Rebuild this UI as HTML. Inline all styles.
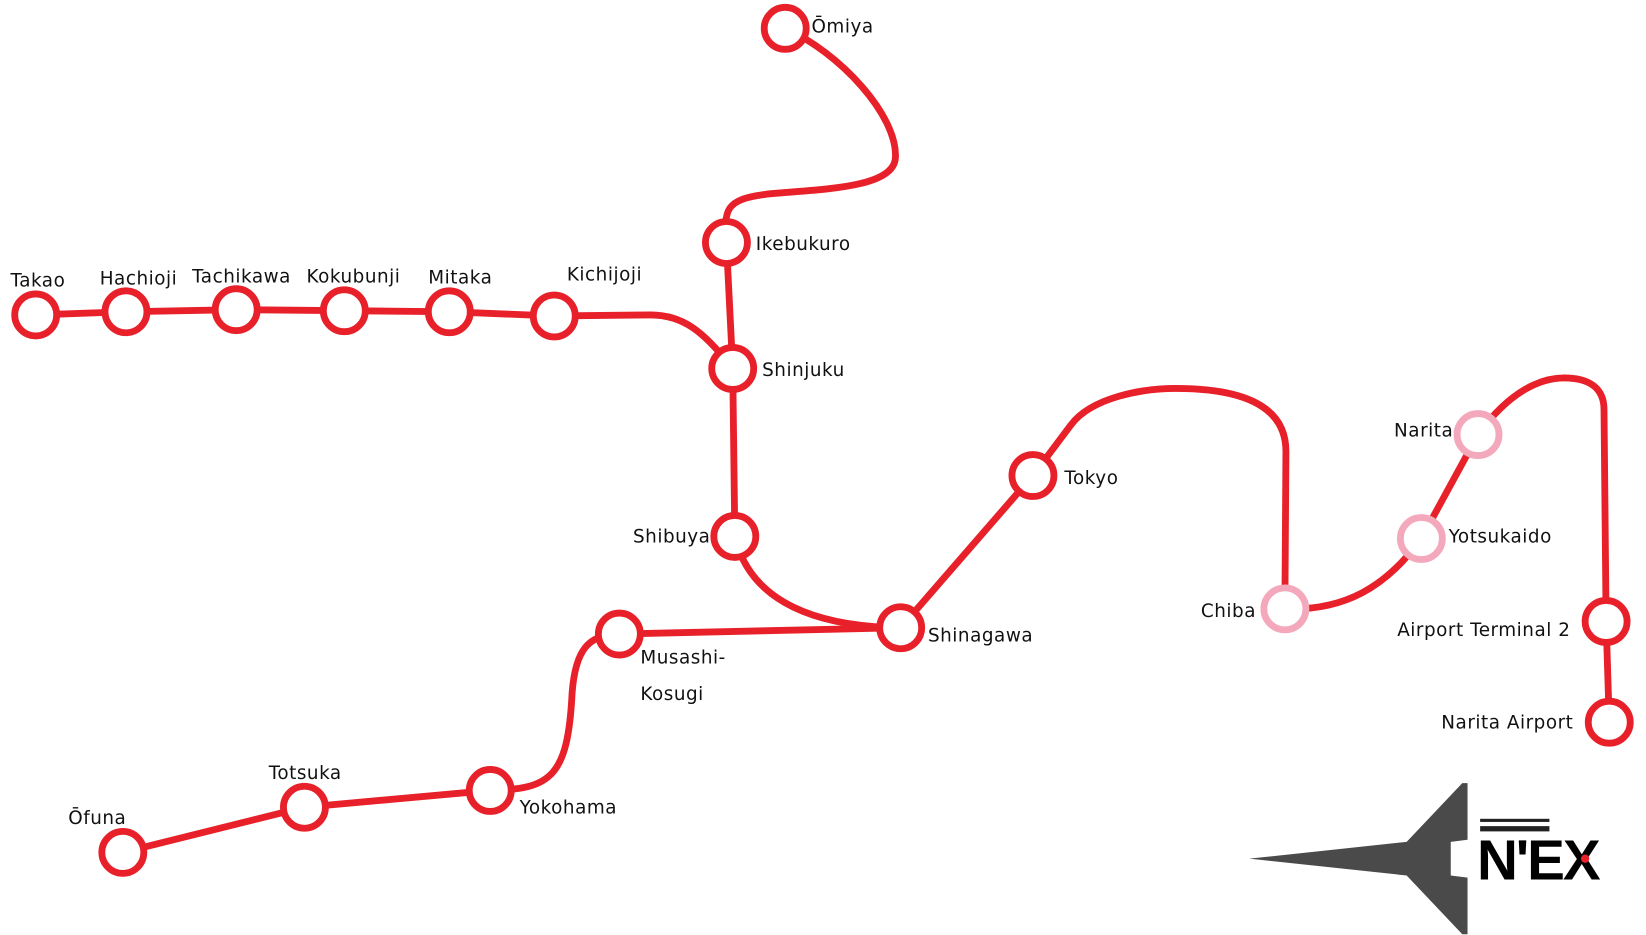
<!DOCTYPE html>
<html><head><meta charset="utf-8"><style>
html,body{margin:0;padding:0;background:#fff;}
svg{display:block;}
text{font-family:"DejaVu Sans","Liberation Sans",sans-serif;font-size:17.5px;fill:#111;letter-spacing:0.5px;}
</style></head><body>
<svg width="1646" height="935" viewBox="0 0 1568 890.7" xmlns="http://www.w3.org/2000/svg">
<g fill="none" stroke="#e8202a" stroke-width="6.5" stroke-linecap="round" stroke-linejoin="round">
<polyline points="34,300 120,297 225,295 328,296 428,297 528,301"/>
<path d="M528,301 L620,300 C650,300 670,315 698,351"/>
<path d="M698,351 L692,231"/>
<path d="M748,27 C800,50 855,110 853,150 C852,180 780,180 730,185 C690,190 690,200 692,231"/>
<path d="M698,351 L700,511"/>
<path d="M700,511 C715,575 780,597 858,598"/>
<path d="M858,598 L590,604"/>
<path d="M590,604 C560,604 548,620 545,660 C541,740 525,752 467,753"/>
<polyline points="467,753 290,769 117,812"/>
<path d="M858,598 L984,453"/>
<path d="M984,453 L1020,405 C1040,378 1090,370 1120,370 C1190,370 1225,390 1225,430 L1224,580"/>
<path d="M1224,580 C1280,582 1320,560 1354,513 L1408,414"/>
<path d="M1408,414 C1440,370 1470,360 1490,360 C1520,360 1528,375 1528,390 L1530,592 L1533,688"/>
</g>
<g fill="#fff" stroke="#e8202a" stroke-width="6.5">
<circle cx="34" cy="300" r="20"/><circle cx="120" cy="297" r="20"/><circle cx="225" cy="295" r="20"/>
<circle cx="328" cy="296" r="20"/><circle cx="428" cy="297" r="20"/><circle cx="528" cy="301" r="20"/>
<circle cx="698" cy="351" r="20"/><circle cx="692" cy="231" r="20"/><circle cx="748" cy="27" r="20"/>
<circle cx="700" cy="511" r="20"/><circle cx="858" cy="598" r="20"/><circle cx="590" cy="604" r="20"/>
<circle cx="467" cy="753" r="20"/><circle cx="290" cy="769" r="20"/><circle cx="117" cy="812" r="20"/>
<circle cx="984" cy="453" r="20"/><circle cx="1530" cy="592" r="20"/><circle cx="1533" cy="688" r="20"/>
</g>
<g fill="#fff" stroke="#f4a8bc" stroke-width="6.5">
<circle cx="1224" cy="580" r="20"/><circle cx="1354" cy="513" r="20"/><circle cx="1408" cy="414" r="20"/>
</g>
<text x="10" y="273">Takao</text>
<text x="95" y="271">Hachioji</text>
<text x="183" y="269">Tachikawa</text>
<text x="292" y="269">Kokubunji</text>
<text x="408" y="270">Mitaka</text>
<text x="540" y="267">Kichijoji</text>
<text x="720" y="238">Ikebukuro</text>
<text x="773" y="31">Ōmiya</text>
<text x="726" y="358">Shinjuku</text>
<text x="603" y="517">Shibuya</text>
<text x="884" y="611">Shinagawa</text>
<text x="610" y="632">Musashi-</text>
<text x="610" y="667">Kosugi</text>
<text x="495" y="775">Yokohama</text>
<text x="256" y="742">Totsuka</text>
<text x="65" y="785">Ōfuna</text>
<text x="1014" y="461">Tokyo</text>
<text x="1144" y="588">Chiba</text>
<text x="1380" y="517">Yotsukaido</text>
<text x="1328" y="416">Narita</text>
<text x="1331" y="606">Airport Terminal 2</text>
<text x="1373" y="694">Narita Airport</text>
<polygon fill="#4a4a4a" points="1190,818 1340,802 1393,746 1398,746 1398,800 1382,802 1382,834 1398,836 1398,890 1393,890 1340,834"/>
<rect x="1410" y="780" width="66" height="3" fill="#222"/>
<rect x="1410" y="787" width="66" height="5" fill="#222"/>
<text x="1407" y="838" style="font-family:'Liberation Sans',sans-serif;font-weight:bold;font-size:54px;letter-spacing:-2px;fill:#000">N'EX</text>
<circle cx="1510" cy="818" r="4" fill="#e8202a"/>
</svg>
</body></html>
